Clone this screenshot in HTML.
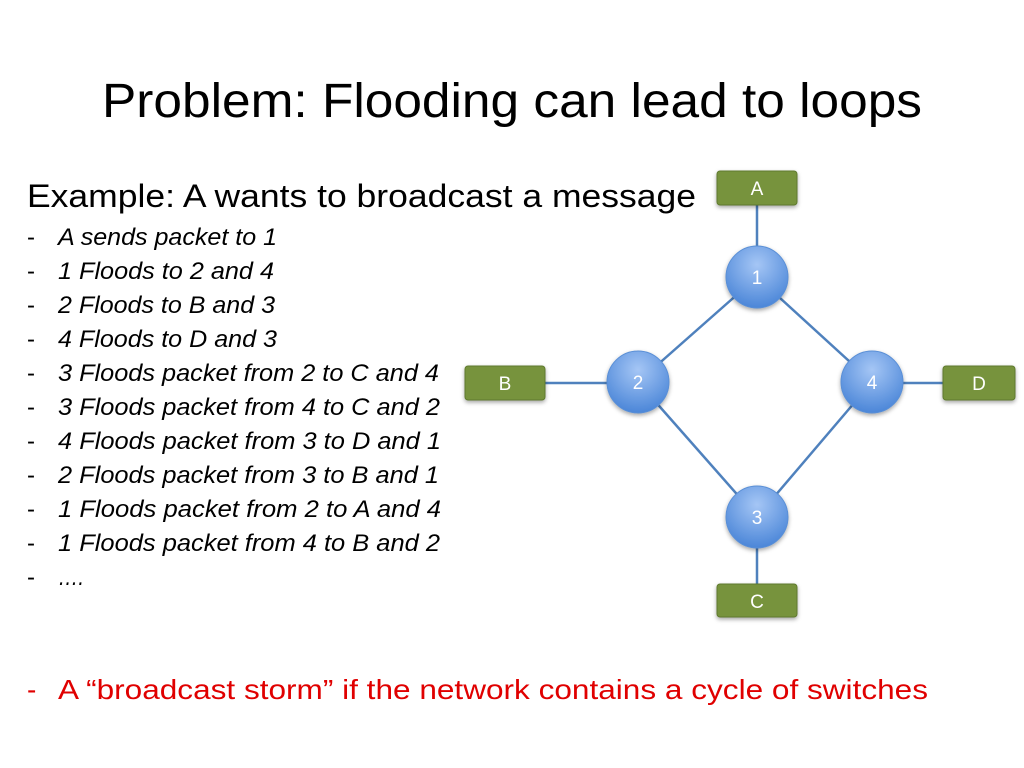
<!DOCTYPE html>
<html><head><meta charset="utf-8"><style>
html,body{margin:0;padding:0;background:#fff;}
svg{display:block;}
text{font-family:"Liberation Sans",sans-serif;}
</style></head><body>
<svg width="1024" height="768" viewBox="0 0 1024 768" xmlns="http://www.w3.org/2000/svg">
<defs>
<radialGradient id="g" cx="50%" cy="30%" r="70%">
<stop offset="0" stop-color="#a5c6f5"/><stop offset="1" stop-color="#4b86d8"/>
</radialGradient>
<filter id="sh" x="-30%" y="-30%" width="160%" height="160%"><feDropShadow dx="0" dy="2" stdDeviation="2" flood-opacity="0.35"/></filter>
</defs>
<text x="102" y="117" font-size="48" textLength="820" lengthAdjust="spacingAndGlyphs" fill="#000">Problem: Flooding can lead to loops</text>
<text x="27" y="207" font-size="32" textLength="669" lengthAdjust="spacingAndGlyphs" fill="#000">Example: A wants to broadcast a message</text>
<g font-size="24" font-style="italic" fill="#000">
<text x="27" y="245" font-style="normal">-</text><text x="58" y="245" textLength="219" lengthAdjust="spacingAndGlyphs">A sends packet to 1</text>
<text x="27" y="279" font-style="normal">-</text><text x="58" y="279" textLength="216" lengthAdjust="spacingAndGlyphs">1 Floods to 2 and 4</text>
<text x="27" y="313" font-style="normal">-</text><text x="58" y="313" textLength="217" lengthAdjust="spacingAndGlyphs">2 Floods to B and 3</text>
<text x="27" y="347" font-style="normal">-</text><text x="58" y="347" textLength="219" lengthAdjust="spacingAndGlyphs">4 Floods to D and 3</text>
<text x="27" y="381" font-style="normal">-</text><text x="58" y="381" textLength="381" lengthAdjust="spacingAndGlyphs">3 Floods packet from 2 to C and 4</text>
<text x="27" y="415" font-style="normal">-</text><text x="58" y="415" textLength="382" lengthAdjust="spacingAndGlyphs">3 Floods packet from 4 to C and 2</text>
<text x="27" y="449" font-style="normal">-</text><text x="58" y="449" textLength="383" lengthAdjust="spacingAndGlyphs">4 Floods packet from 3 to D and 1</text>
<text x="27" y="483" font-style="normal">-</text><text x="58" y="483" textLength="381" lengthAdjust="spacingAndGlyphs">2 Floods packet from 3 to B and 1</text>
<text x="27" y="517" font-style="normal">-</text><text x="58" y="517" textLength="383" lengthAdjust="spacingAndGlyphs">1 Floods packet from 2 to A and 4</text>
<text x="27" y="551" font-style="normal">-</text><text x="58" y="551" textLength="382" lengthAdjust="spacingAndGlyphs">1 Floods packet from 4 to B and 2</text>
<text x="27" y="585" font-style="normal">-</text><text x="58" y="585" textLength="26" lengthAdjust="spacingAndGlyphs">….</text>
</g>
<text x="27" y="699" font-size="28" fill="#e00000">-</text>
<text x="58" y="699" font-size="28" fill="#e00000" textLength="870" lengthAdjust="spacingAndGlyphs">A “broadcast storm” if the network contains a cycle of switches</text>
<g stroke="#4f81bd" stroke-width="2.5">
<line x1="757" y1="205" x2="757" y2="277"/>
<line x1="757" y1="277" x2="638" y2="382"/>
<line x1="757" y1="277" x2="872" y2="382"/>
<line x1="638" y1="382" x2="757" y2="517"/>
<line x1="872" y1="382" x2="757" y2="517"/>
<line x1="545" y1="383" x2="638" y2="383"/>
<line x1="872" y1="383" x2="943" y2="383"/>
<line x1="757" y1="517" x2="757" y2="584"/>
</g>
<g fill="#77933c" stroke="#5f7a2e" stroke-width="1" filter="url(#sh)">
<rect x="717" y="171" width="80" height="34" rx="3"/>
<rect x="465" y="366" width="80" height="34" rx="3"/>
<rect x="943" y="366" width="72" height="34" rx="3"/>
<rect x="717" y="584" width="80" height="33" rx="3"/>
</g>
<g fill="url(#g)" stroke="#5a8fd6" stroke-width="1" filter="url(#sh)">
<circle cx="757" cy="277" r="31"/>
<circle cx="638" cy="382" r="31"/>
<circle cx="872" cy="382" r="31"/>
<circle cx="757" cy="517" r="31"/>
</g>
<g fill="#fff" font-size="19" text-anchor="middle">
<text x="757" y="195">A</text><text x="505" y="390">B</text><text x="979" y="390">D</text><text x="757" y="608">C</text>
<text x="757" y="284">1</text><text x="638" y="389">2</text><text x="872" y="389">4</text><text x="757" y="524">3</text>
</g>
</svg>
</body></html>
